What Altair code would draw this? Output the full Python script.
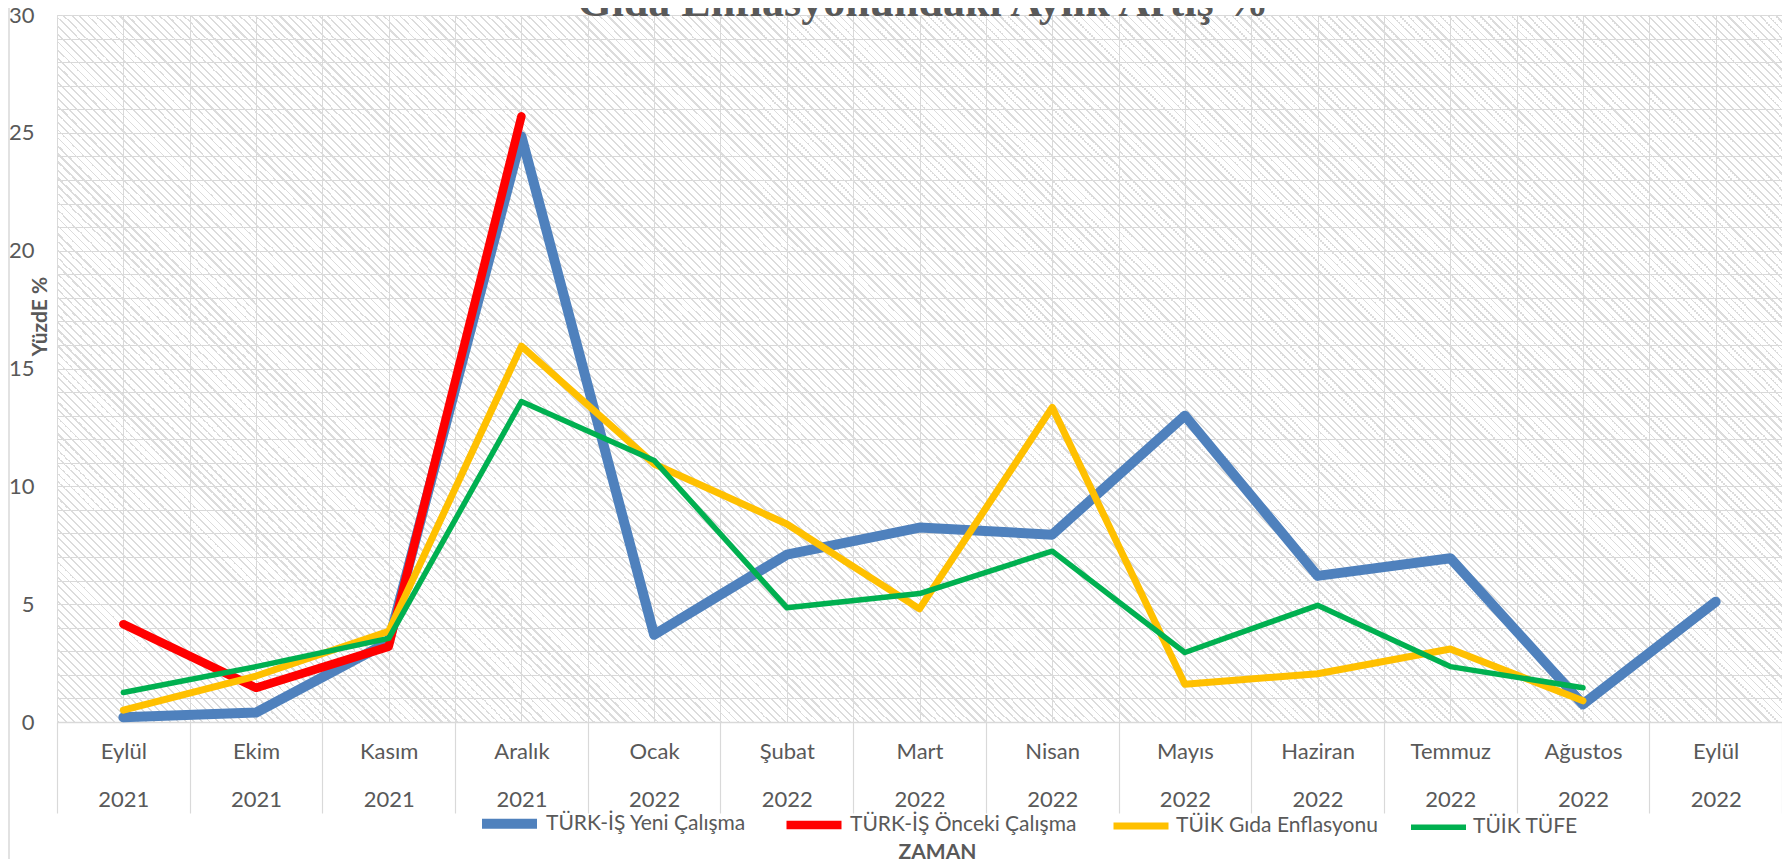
import json
import altair as alt
import pandas as pd

# ---------------- data ----------------
title_text = "Gıda Enflasyonundaki Aylık Artış %"
months = ["Eylül", "Ekim", "Kasım", "Aralık", "Ocak", "Şubat", "Mart",
          "Nisan", "Mayıs", "Haziran", "Temmuz", "Ağustos", "Eylül"]
years = ["2021", "2021", "2021", "2021", "2022", "2022", "2022",
         "2022", "2022", "2022", "2022", "2022", "2022"]

series = ["TÜRK-İŞ Yeni Çalışma", "TÜRK-İŞ Önceki Çalışma",
          "TÜİK Gıda Enflasyonu", "TÜİK TÜFE"]

turkis_yeni = [0.2, 0.4, 3.4, 24.85, 3.7, 7.1, 8.25, 7.95, 13.0, 6.2, 6.95, 0.75, 5.1]
turkis_onceki = [4.15, 1.45, 3.2, 25.7, None, None, None, None, None, None, None, None, None]
tuik_gida = [0.5, 1.95, 3.85, 15.95, 10.95, 8.4, 4.8, 13.35, 1.6, 2.05, 3.1, 0.9, None]
tuik_tufe = [1.25, 2.35, 3.55, 13.6, 11.1, 4.85, 5.45, 7.25, 2.95, 4.95, 2.35, 1.45, None]

colors = ["#4f81bd", "#ff0000", "#ffc000", "#00b050"]
widths = [10, 5.5, 5.5, 5.5]

rows = []
for name, vals in zip(series, [turkis_yeni, turkis_onceki, tuik_gida, tuik_tufe]):
    for i, v in enumerate(vals):
        if v is not None:
            rows.append({"seri": name, "idx": i, "deger": v})
df = pd.DataFrame(rows)

n_cat = len(months)
y_max = 30
bg = pd.DataFrame({"x0": [0], "x1": [n_cat], "y0": [0], "y1": [y_max]})

# ---------------- styling ----------------
PW, PH = 1725, 707
FONT = "Lato"
TXT = "#595959"
GRID = "#d9d9d9"

# diagonal hatch of the plot area as a striped linear gradient
period, stripe = 8.0, 2.0
total = PW + PH
r = PH / PW
k = (1 + r) / (1 + r * r)
clear = "rgba(255,255,255,0)"
gray = "#dcdcdc"
stops = []
j = 0
while j * period < total:
    a = j * period / total
    b = min((j * period + stripe) / total, 1.0)
    stops += [alt.GradientStop(offset=a, color=clear),
              alt.GradientStop(offset=a, color=gray),
              alt.GradientStop(offset=b, color=gray),
              alt.GradientStop(offset=b, color=clear)]
    j += 1
hatch = alt.LinearGradient(gradient="linear", stops=stops,
                           x1=0, y1=1, x2=k, y2=1 - k * r)

label_expr = ("datum.value % 1 === 0 ? '' : ["
              + json.dumps(months, ensure_ascii=False) + "[floor(datum.value)], "
              + json.dumps(years) + "[floor(datum.value)]]")

x_axis = alt.Axis(
    values=[i / 2 for i in range(2 * n_cat + 1)],
    grid=True, gridColor=GRID, gridWidth=1,
    ticks=True, tickSize=91, tickColor=GRID, tickWidth=1.2,
    tickOpacity={"condition": {"test": "datum.value % 1 === 0", "value": 1}, "value": 0},
    domain=True, domainColor=GRID, domainWidth=1.5,
    labelExpr=label_expr, labelPadding=-62, labelFont=FONT, labelFontSize=22,
    labelColor=TXT, labelLineHeight=48, labelBaseline="middle", labelAlign="center",
    labelOverlap=False, labelFlush=False, labelBound=False,
    title="ZAMAN", titleX=880, titleY=130, titleBaseline="middle", titleAlign="center",
    titleFont=FONT, titleFontSize=21, titleFontWeight="bold", titleColor=TXT,
)
y_axis = alt.Axis(
    values=list(range(y_max + 1)),
    grid=True, gridColor=GRID, gridWidth=1,
    ticks=False, domain=False,
    labelExpr="datum.value % 5 === 0 ? datum.label : ''",
    labelPadding=23, labelFont=FONT, labelFontSize=22, labelColor=TXT,
    labelOverlap=False, labelBound=False, labelFlush=False,
    title="YüzdE %", titleX=-17, titleY=301, titleAngle=270,
    titleBaseline="middle", titleAlign="center",
    titleFont=FONT, titleFontSize=21, titleFontWeight="bold", titleColor=TXT,
)
x_scale = alt.Scale(domain=[0, n_cat], nice=False, zero=False)
y_scale = alt.Scale(domain=[0, y_max], nice=False)

legend = alt.Legend(
    title=None, orient="none", legendX=420, legendY=776, direction="horizontal",
    symbolType="stroke", symbolSize=3025, labelFont=FONT, labelFontSize=21,
    labelColor=TXT, labelOffset=4, columnPadding=22, padding=0, labelLimit=0,
)

background = alt.Chart(bg).mark_rect(fill=hatch, strokeWidth=0).encode(
    x=alt.X("x0:Q", scale=x_scale, axis=x_axis),
    x2="x1:Q",
    y=alt.Y("y0:Q", scale=y_scale, axis=y_axis),
    y2="y1:Q",
)

lines = alt.Chart(df).mark_line(strokeCap="round", strokeJoin="round").transform_calculate(
    pos="datum.idx + 0.5"
).encode(
    x=alt.X("pos:Q", scale=x_scale, axis=x_axis),
    y=alt.Y("deger:Q", scale=y_scale, axis=y_axis),
    color=alt.Color("seri:N", scale=alt.Scale(domain=series, range=colors), legend=legend),
    strokeWidth=alt.StrokeWidth("seri:N", scale=alt.Scale(domain=series, range=widths), legend=legend),
)

border = alt.Chart(alt.Data(values=[{}])).mark_rule(color=GRID, strokeWidth=1.5).encode(
    x=alt.value(-48), y=alt.value(-7), y2=alt.value(844)
)

# chart title, partly cut off at the top edge as in the reference
title = alt.Chart(alt.Data(values=[{}])).mark_text(
    text=title_text, font="Liberation Serif", fontSize=44, fontWeight="bold",
    color=TXT, align="center", baseline="alphabetic",
).encode(x=alt.value(866), y=alt.value(1))

chart = alt.layer(background, lines, border, title).properties(
    width=PW, height=PH,
    padding={"left": 49, "top": 7, "right": 0, "bottom": 137},
    autosize=alt.AutoSizeParams(type="none"),
).configure_view(stroke=None).configure(background="white")

chart.save("out.html", embed_options={"renderer": "svg", "actions": False})
